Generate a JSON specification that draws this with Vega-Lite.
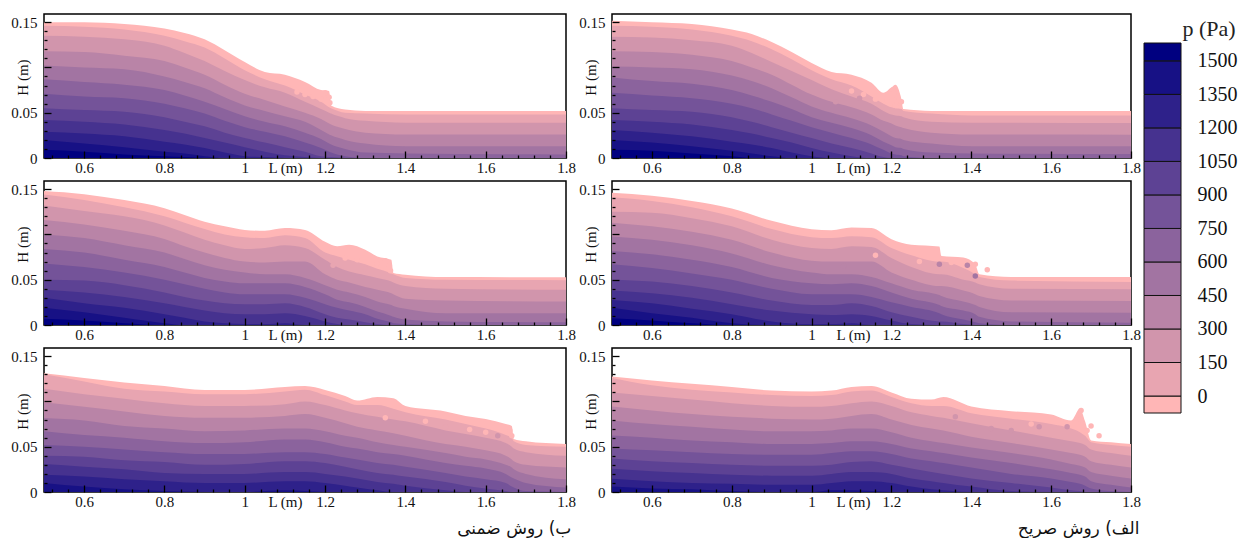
{"$schema":"https://vega.github.io/schema/vega-lite/v6.json","background":"white","padding":{"left":10,"top":13,"right":0,"bottom":0},"spacing":1,
"config":{"view":{"stroke":"black","strokeWidth":1.5},"font":"Liberation Serif","axis":{"labelFont":"Liberation Serif","titleFont":"Liberation Serif","labelFontSize":15,"titleFontSize":15,"titleFontWeight":"normal","labelColor":"#111","titleColor":"#111","domain":false,"grid":false,"labelBound":false,"labelFlush":false,"tickColor":"black","tickWidth":1.3},"title":{"font":"DejaVu Sans","fontSize":17,"fontWeight":"normal","color":"#111"}},
"datasets":{"d":[
{"p":"a","L":0.5,"s0":0.15,"s1":0.146,"s2":0.135,"s3":0.118,"s4":0.102,"s5":0.087,"s6":0.071,"s7":0.055,"s8":0.042,"s9":0.029,"s10":0.02,"s11":0.009},
{"p":"a","L":0.6,"s0":0.15,"s1":0.145,"s2":0.134,"s3":0.117,"s4":0.1,"s5":0.084,"s6":0.068,"s7":0.053,"s8":0.04,"s9":0.027,"s10":0.016,"s11":0.007},
{"p":"a","L":0.7,"s0":0.148,"s1":0.142,"s2":0.131,"s3":0.113,"s4":0.098,"s5":0.081,"s6":0.066,"s7":0.051,"s8":0.037,"s9":0.024,"s10":0.012,"s11":0.004},
{"p":"a","L":0.8,"s0":0.143,"s1":0.135,"s2":0.124,"s3":0.107,"s4":0.09,"s5":0.075,"s6":0.06,"s7":0.045,"s8":0.031,"s9":0.018,"s10":0.007,"s11":0.002},
{"p":"a","L":0.85,"s0":0.138,"s1":0.129,"s2":0.116,"s3":0.1,"s4":0.084,"s5":0.069,"s6":0.055,"s7":0.04,"s8":0.027,"s9":0.015,"s10":0.005,"s11":0.001},
{"p":"a","L":0.9,"s0":0.131,"s1":0.122,"s2":0.107,"s3":0.092,"s4":0.077,"s5":0.062,"s6":0.049,"s7":0.035,"s8":0.022,"s9":0.011,"s10":0.002,"s11":0},
{"p":"a","L":0.95,"s0":0.119,"s1":0.11,"s2":0.096,"s3":0.081,"s4":0.067,"s5":0.054,"s6":0.041,"s7":0.028,"s8":0.017,"s9":0.006,"s10":0,"s11":0},
{"p":"a","L":1,"s0":0.106,"s1":0.097,"s2":0.086,"s3":0.071,"s4":0.058,"s5":0.046,"s6":0.034,"s7":0.022,"s8":0.012,"s9":0.002,"s10":0,"s11":0},
{"p":"a","L":1.05,"s0":0.095,"s1":0.087,"s2":0.078,"s3":0.064,"s4":0.052,"s5":0.04,"s6":0.029,"s7":0.017,"s8":0.007,"s9":0.001,"s10":0,"s11":0},
{"p":"a","L":1.1,"s0":0.092,"s1":0.08,"s2":0.072,"s3":0.057,"s4":0.046,"s5":0.035,"s6":0.024,"s7":0.012,"s8":0.003,"s9":0,"s10":0,"s11":0},
{"p":"a","L":1.15,"s0":0.084,"s1":0.07,"s2":0.062,"s3":0.05,"s4":0.04,"s5":0.028,"s6":0.017,"s7":0.007,"s8":0.001,"s9":0,"s10":0,"s11":0},
{"p":"a","L":1.19,"s0":0.075,"s1":0.062,"s2":0.054,"s3":0.043,"s4":0.031,"s5":0.021,"s6":0.011,"s7":0.002,"s8":0,"s9":0,"s10":0,"s11":0},
{"p":"a","L":1.21,"s0":0.074,"s1":0.056,"s2":0.05,"s3":0.038,"s4":0.026,"s5":0.016,"s6":0.007,"s7":0.001,"s8":0,"s9":0,"s10":0,"s11":0},
{"p":"a","L":1.215,"s0":0.058,"s1":0.055,"s2":0.049,"s3":0.037,"s4":0.025,"s5":0.015,"s6":0.006,"s7":0.001,"s8":0,"s9":0,"s10":0,"s11":0},
{"p":"a","L":1.25,"s0":0.0535,"s1":0.05,"s2":0.044,"s3":0.032,"s4":0.02,"s5":0.01,"s6":0.002,"s7":0,"s8":0,"s9":0,"s10":0,"s11":0},
{"p":"a","L":1.3,"s0":0.052,"s1":0.049,"s2":0.041,"s3":0.028,"s4":0.016,"s5":0.006,"s6":0,"s7":0,"s8":0,"s9":0,"s10":0,"s11":0},
{"p":"a","L":1.4,"s0":0.052,"s1":0.048,"s2":0.039,"s3":0.026,"s4":0.013,"s5":0.005,"s6":0,"s7":0,"s8":0,"s9":0,"s10":0,"s11":0},
{"p":"a","L":1.8,"s0":0.052,"s1":0.048,"s2":0.039,"s3":0.026,"s4":0.013,"s5":0.004,"s6":0,"s7":0,"s8":0,"s9":0,"s10":0,"s11":0},
{"p":"b","L":0.5,"s0":0.148,"s1":0.144,"s2":0.132,"s3":0.116,"s4":0.1,"s5":0.084,"s6":0.068,"s7":0.05,"s8":0.039,"s9":0.03,"s10":0.019,"s11":0.007},
{"p":"b","L":0.6,"s0":0.1445,"s1":0.138,"s2":0.126,"s3":0.111,"s4":0.096,"s5":0.08,"s6":0.064,"s7":0.049,"s8":0.036,"s9":0.024,"s10":0.014,"s11":0.005},
{"p":"b","L":0.7,"s0":0.138,"s1":0.13,"s2":0.12,"s3":0.104,"s4":0.088,"s5":0.072,"s6":0.058,"s7":0.044,"s8":0.031,"s9":0.019,"s10":0.008,"s11":0.002},
{"p":"b","L":0.8,"s0":0.129,"s1":0.12,"s2":0.11,"s3":0.095,"s4":0.08,"s5":0.064,"s6":0.05,"s7":0.036,"s8":0.024,"s9":0.012,"s10":0.002,"s11":0},
{"p":"b","L":0.85,"s0":0.1215,"s1":0.113,"s2":0.102,"s3":0.087,"s4":0.073,"s5":0.058,"s6":0.045,"s7":0.031,"s8":0.02,"s9":0.008,"s10":0,"s11":0},
{"p":"b","L":0.9,"s0":0.114,"s1":0.106,"s2":0.094,"s3":0.08,"s4":0.066,"s5":0.052,"s6":0.04,"s7":0.027,"s8":0.016,"s9":0.004,"s10":0,"s11":0},
{"p":"b","L":0.95,"s0":0.109,"s1":0.1,"s2":0.088,"s3":0.074,"s4":0.061,"s5":0.048,"s6":0.036,"s7":0.024,"s8":0.013,"s9":0.002,"s10":0,"s11":0},
{"p":"b","L":1,"s0":0.105,"s1":0.097,"s2":0.084,"s3":0.07,"s4":0.058,"s5":0.046,"s6":0.034,"s7":0.023,"s8":0.012,"s9":0.001,"s10":0,"s11":0},
{"p":"b","L":1.05,"s0":0.104,"s1":0.096,"s2":0.085,"s3":0.069,"s4":0.056,"s5":0.046,"s6":0.034,"s7":0.023,"s8":0.012,"s9":0.001,"s10":0,"s11":0},
{"p":"b","L":1.1,"s0":0.107,"s1":0.099,"s2":0.088,"s3":0.07,"s4":0.056,"s5":0.046,"s6":0.034,"s7":0.024,"s8":0.013,"s9":0.002,"s10":0,"s11":0},
{"p":"b","L":1.15,"s0":0.105,"s1":0.096,"s2":0.085,"s3":0.07,"s4":0.052,"s5":0.042,"s6":0.03,"s7":0.02,"s8":0.01,"s9":0,"s10":0,"s11":0},
{"p":"b","L":1.2,"s0":0.092,"s1":0.08,"s2":0.072,"s3":0.056,"s4":0.044,"s5":0.034,"s6":0.023,"s7":0.012,"s8":0.004,"s9":0,"s10":0,"s11":0},
{"p":"b","L":1.23,"s0":0.087,"s1":0.076,"s2":0.064,"s3":0.05,"s4":0.039,"s5":0.028,"s6":0.019,"s7":0.008,"s8":0.001,"s9":0,"s10":0,"s11":0},
{"p":"b","L":1.26,"s0":0.0885,"s1":0.072,"s2":0.059,"s3":0.047,"s4":0.036,"s5":0.025,"s6":0.016,"s7":0.006,"s8":0,"s9":0,"s10":0,"s11":0},
{"p":"b","L":1.3,"s0":0.083,"s1":0.067,"s2":0.055,"s3":0.042,"s4":0.031,"s5":0.02,"s6":0.012,"s7":0.003,"s8":0,"s9":0,"s10":0,"s11":0},
{"p":"b","L":1.33,"s0":0.0757,"s1":0.062,"s2":0.052,"s3":0.039,"s4":0.026,"s5":0.015,"s6":0.007,"s7":0.001,"s8":0,"s9":0,"s10":0,"s11":0},
{"p":"b","L":1.365,"s0":0.072,"s1":0.057,"s2":0.048,"s3":0.035,"s4":0.022,"s5":0.01,"s6":0.003,"s7":0,"s8":0,"s9":0,"s10":0,"s11":0},
{"p":"b","L":1.37,"s0":0.0575,"s1":0.056,"s2":0.047,"s3":0.034,"s4":0.021,"s5":0.009,"s6":0.002,"s7":0,"s8":0,"s9":0,"s10":0,"s11":0},
{"p":"b","L":1.4,"s0":0.0556,"s1":0.052,"s2":0.043,"s3":0.029,"s4":0.018,"s5":0.006,"s6":0.001,"s7":0,"s8":0,"s9":0,"s10":0,"s11":0},
{"p":"b","L":1.5,"s0":0.053,"s1":0.05,"s2":0.04,"s3":0.027,"s4":0.013,"s5":0.004,"s6":0,"s7":0,"s8":0,"s9":0,"s10":0,"s11":0},
{"p":"b","L":1.8,"s0":0.0527,"s1":0.0495,"s2":0.039,"s3":0.026,"s4":0.013,"s5":0.003,"s6":0,"s7":0,"s8":0,"s9":0,"s10":0,"s11":0},
{"p":"c","L":0.5,"s0":0.131,"s1":0.13,"s2":0.114,"s3":0.099,"s4":0.0816,"s5":0.067,"s6":0.052,"s7":0.04,"s8":0.031,"s9":0.019,"s10":0.01,"s11":0},
{"p":"c","L":0.6,"s0":0.126,"s1":0.122,"s2":0.108,"s3":0.094,"s4":0.079,"s5":0.063,"s6":0.05,"s7":0.039,"s8":0.028,"s9":0.017,"s10":0.006,"s11":0},
{"p":"c","L":0.7,"s0":0.121,"s1":0.114,"s2":0.103,"s3":0.089,"s4":0.073,"s5":0.06,"s6":0.047,"s7":0.035,"s8":0.025,"s9":0.014,"s10":0.003,"s11":0},
{"p":"c","L":0.8,"s0":0.117,"s1":0.111,"s2":0.098,"s3":0.084,"s4":0.07,"s5":0.056,"s6":0.044,"s7":0.033,"s8":0.021,"s9":0.012,"s10":0.001,"s11":0},
{"p":"c","L":0.9,"s0":0.1127,"s1":0.108,"s2":0.095,"s3":0.082,"s4":0.067,"s5":0.054,"s6":0.042,"s7":0.03,"s8":0.02,"s9":0.01,"s10":0,"s11":0},
{"p":"c","L":1,"s0":0.1127,"s1":0.108,"s2":0.095,"s3":0.082,"s4":0.068,"s5":0.055,"s6":0.042,"s7":0.031,"s8":0.02,"s9":0.01,"s10":0,"s11":0},
{"p":"c","L":1.1,"s0":0.116,"s1":0.111,"s2":0.097,"s3":0.084,"s4":0.07,"s5":0.058,"s6":0.044,"s7":0.034,"s8":0.022,"s9":0.012,"s10":0.002,"s11":0},
{"p":"c","L":1.15,"s0":0.117,"s1":0.113,"s2":0.1,"s3":0.086,"s4":0.07,"s5":0.058,"s6":0.044,"s7":0.034,"s8":0.022,"s9":0.012,"s10":0.001,"s11":0},
{"p":"c","L":1.2,"s0":0.1127,"s1":0.107,"s2":0.096,"s3":0.082,"s4":0.067,"s5":0.055,"s6":0.042,"s7":0.032,"s8":0.02,"s9":0.01,"s10":0,"s11":0},
{"p":"c","L":1.25,"s0":0.106,"s1":0.1,"s2":0.09,"s3":0.076,"s4":0.062,"s5":0.05,"s6":0.038,"s7":0.028,"s8":0.017,"s9":0.007,"s10":0,"s11":0},
{"p":"c","L":1.28,"s0":0.101,"s1":0.096,"s2":0.087,"s3":0.072,"s4":0.06,"s5":0.048,"s6":0.036,"s7":0.025,"s8":0.015,"s9":0.005,"s10":0,"s11":0},
{"p":"c","L":1.33,"s0":0.105,"s1":0.096,"s2":0.083,"s3":0.068,"s4":0.055,"s5":0.044,"s6":0.032,"s7":0.021,"s8":0.011,"s9":0.002,"s10":0,"s11":0},
{"p":"c","L":1.37,"s0":0.1035,"s1":0.092,"s2":0.08,"s3":0.065,"s4":0.052,"s5":0.042,"s6":0.03,"s7":0.019,"s8":0.009,"s9":0,"s10":0,"s11":0},
{"p":"c","L":1.4,"s0":0.095,"s1":0.088,"s2":0.078,"s3":0.062,"s4":0.05,"s5":0.04,"s6":0.028,"s7":0.017,"s8":0.007,"s9":0,"s10":0,"s11":0},
{"p":"c","L":1.5,"s0":0.089,"s1":0.08,"s2":0.068,"s3":0.053,"s4":0.043,"s5":0.032,"s6":0.021,"s7":0.011,"s8":0.002,"s9":0,"s10":0,"s11":0},
{"p":"c","L":1.55,"s0":0.084,"s1":0.075,"s2":0.064,"s3":0.05,"s4":0.039,"s5":0.029,"s6":0.017,"s7":0.007,"s8":0,"s9":0,"s10":0,"s11":0},
{"p":"c","L":1.6,"s0":0.0805,"s1":0.07,"s2":0.06,"s3":0.046,"s4":0.036,"s5":0.026,"s6":0.014,"s7":0.004,"s8":0,"s9":0,"s10":0,"s11":0},
{"p":"c","L":1.65,"s0":0.075,"s1":0.063,"s2":0.054,"s3":0.04,"s4":0.03,"s5":0.02,"s6":0.01,"s7":0.001,"s8":0,"s9":0,"s10":0,"s11":0},
{"p":"c","L":1.665,"s0":0.073,"s1":0.06,"s2":0.05,"s3":0.036,"s4":0.027,"s5":0.016,"s6":0.006,"s7":0,"s8":0,"s9":0,"s10":0,"s11":0},
{"p":"c","L":1.67,"s0":0.0585,"s1":0.056,"s2":0.048,"s3":0.034,"s4":0.025,"s5":0.015,"s6":0.005,"s7":0,"s8":0,"s9":0,"s10":0,"s11":0},
{"p":"c","L":1.7,"s0":0.056,"s1":0.052,"s2":0.044,"s3":0.03,"s4":0.02,"s5":0.01,"s6":0.001,"s7":0,"s8":0,"s9":0,"s10":0,"s11":0},
{"p":"c","L":1.8,"s0":0.053,"s1":0.05,"s2":0.04,"s3":0.027,"s4":0.014,"s5":0.005,"s6":0,"s7":0,"s8":0,"s9":0,"s10":0,"s11":0},
{"p":"d","L":0.5,"s0":0.1515,"s1":0.146,"s2":0.134,"s3":0.118,"s4":0.101,"s5":0.089,"s6":0.072,"s7":0.055,"s8":0.042,"s9":0.031,"s10":0.02,"s11":0.009},
{"p":"d","L":0.6,"s0":0.15,"s1":0.145,"s2":0.133,"s3":0.117,"s4":0.1,"s5":0.085,"s6":0.069,"s7":0.053,"s8":0.04,"s9":0.028,"s10":0.017,"s11":0.008},
{"p":"d","L":0.7,"s0":0.148,"s1":0.142,"s2":0.13,"s3":0.114,"s4":0.098,"s5":0.082,"s6":0.066,"s7":0.051,"s8":0.037,"s9":0.024,"s10":0.013,"s11":0.005},
{"p":"d","L":0.8,"s0":0.142,"s1":0.135,"s2":0.124,"s3":0.107,"s4":0.091,"s5":0.075,"s6":0.06,"s7":0.045,"s8":0.031,"s9":0.018,"s10":0.008,"s11":0.002},
{"p":"d","L":0.85,"s0":0.137,"s1":0.129,"s2":0.116,"s3":0.1,"s4":0.085,"s5":0.069,"s6":0.055,"s7":0.04,"s8":0.027,"s9":0.015,"s10":0.005,"s11":0},
{"p":"d","L":0.9,"s0":0.128,"s1":0.12,"s2":0.106,"s3":0.092,"s4":0.077,"s5":0.062,"s6":0.048,"s7":0.034,"s8":0.022,"s9":0.011,"s10":0.002,"s11":0},
{"p":"d","L":0.95,"s0":0.117,"s1":0.109,"s2":0.096,"s3":0.081,"s4":0.067,"s5":0.054,"s6":0.041,"s7":0.028,"s8":0.017,"s9":0.006,"s10":0,"s11":0},
{"p":"d","L":1,"s0":0.105,"s1":0.097,"s2":0.086,"s3":0.07,"s4":0.057,"s5":0.045,"s6":0.034,"s7":0.022,"s8":0.011,"s9":0.002,"s10":0,"s11":0},
{"p":"d","L":1.05,"s0":0.095,"s1":0.087,"s2":0.076,"s3":0.062,"s4":0.05,"s5":0.039,"s6":0.028,"s7":0.016,"s8":0.006,"s9":0,"s10":0,"s11":0},
{"p":"d","L":1.1,"s0":0.092,"s1":0.08,"s2":0.068,"s3":0.056,"s4":0.044,"s5":0.033,"s6":0.022,"s7":0.011,"s8":0.002,"s9":0,"s10":0,"s11":0},
{"p":"d","L":1.15,"s0":0.083,"s1":0.068,"s2":0.06,"s3":0.048,"s4":0.036,"s5":0.025,"s6":0.015,"s7":0.005,"s8":0,"s9":0,"s10":0,"s11":0},
{"p":"d","L":1.18,"s0":0.072,"s1":0.06,"s2":0.052,"s3":0.041,"s4":0.029,"s5":0.018,"s6":0.009,"s7":0.001,"s8":0,"s9":0,"s10":0,"s11":0},
{"p":"d","L":1.2,"s0":0.078,"s1":0.056,"s2":0.048,"s3":0.038,"s4":0.024,"s5":0.014,"s6":0.005,"s7":0,"s8":0,"s9":0,"s10":0,"s11":0},
{"p":"d","L":1.21,"s0":0.081,"s1":0.055,"s2":0.047,"s3":0.036,"s4":0.022,"s5":0.012,"s6":0.004,"s7":0,"s8":0,"s9":0,"s10":0,"s11":0},
{"p":"d","L":1.225,"s0":0.065,"s1":0.054,"s2":0.046,"s3":0.034,"s4":0.021,"s5":0.011,"s6":0.003,"s7":0,"s8":0,"s9":0,"s10":0,"s11":0},
{"p":"d","L":1.23,"s0":0.054,"s1":0.052,"s2":0.045,"s3":0.033,"s4":0.02,"s5":0.01,"s6":0.002,"s7":0,"s8":0,"s9":0,"s10":0,"s11":0},
{"p":"d","L":1.3,"s0":0.052,"s1":0.049,"s2":0.04,"s3":0.028,"s4":0.016,"s5":0.006,"s6":0,"s7":0,"s8":0,"s9":0,"s10":0,"s11":0},
{"p":"d","L":1.4,"s0":0.052,"s1":0.047,"s2":0.039,"s3":0.026,"s4":0.013,"s5":0.005,"s6":0,"s7":0,"s8":0,"s9":0,"s10":0,"s11":0},
{"p":"d","L":1.8,"s0":0.052,"s1":0.047,"s2":0.0386,"s3":0.0257,"s4":0.0129,"s5":0.0044,"s6":0,"s7":0,"s8":0,"s9":0,"s10":0,"s11":0},
{"p":"e","L":0.5,"s0":0.146,"s1":0.141,"s2":0.125,"s3":0.113,"s4":0.0977,"s5":0.0818,"s6":0.067,"s7":0.05,"s8":0.038,"s9":0.0276,"s10":0.019,"s11":0.0074},
{"p":"e","L":0.6,"s0":0.1426,"s1":0.137,"s2":0.124,"s3":0.109,"s4":0.094,"s5":0.078,"s6":0.063,"s7":0.048,"s8":0.035,"s9":0.024,"s10":0.013,"s11":0.005},
{"p":"e","L":0.7,"s0":0.137,"s1":0.13,"s2":0.118,"s3":0.103,"s4":0.088,"s5":0.072,"s6":0.057,"s7":0.043,"s8":0.03,"s9":0.018,"s10":0.008,"s11":0.002},
{"p":"e","L":0.8,"s0":0.1286,"s1":0.12,"s2":0.109,"s3":0.094,"s4":0.079,"s5":0.064,"s6":0.05,"s7":0.036,"s8":0.023,"s9":0.012,"s10":0.002,"s11":0},
{"p":"e","L":0.9,"s0":0.115,"s1":0.106,"s2":0.094,"s3":0.08,"s4":0.066,"s5":0.052,"s6":0.04,"s7":0.027,"s8":0.016,"s9":0.004,"s10":0,"s11":0},
{"p":"e","L":1,"s0":0.1058,"s1":0.097,"s2":0.085,"s3":0.071,"s4":0.058,"s5":0.046,"s6":0.034,"s7":0.022,"s8":0.012,"s9":0.001,"s10":0,"s11":0},
{"p":"e","L":1.05,"s0":0.1047,"s1":0.096,"s2":0.084,"s3":0.07,"s4":0.056,"s5":0.045,"s6":0.034,"s7":0.022,"s8":0.011,"s9":0.001,"s10":0,"s11":0},
{"p":"e","L":1.1,"s0":0.1076,"s1":0.098,"s2":0.087,"s3":0.07,"s4":0.056,"s5":0.046,"s6":0.034,"s7":0.024,"s8":0.012,"s9":0.002,"s10":0,"s11":0},
{"p":"e","L":1.15,"s0":0.107,"s1":0.097,"s2":0.086,"s3":0.07,"s4":0.053,"s5":0.043,"s6":0.031,"s7":0.021,"s8":0.01,"s9":0,"s10":0,"s11":0},
{"p":"e","L":1.2,"s0":0.0947,"s1":0.085,"s2":0.074,"s3":0.058,"s4":0.046,"s5":0.036,"s6":0.025,"s7":0.014,"s8":0.005,"s9":0,"s10":0,"s11":0},
{"p":"e","L":1.25,"s0":0.0885,"s1":0.077,"s2":0.064,"s3":0.05,"s4":0.039,"s5":0.029,"s6":0.02,"s7":0.009,"s8":0.001,"s9":0,"s10":0,"s11":0},
{"p":"e","L":1.32,"s0":0.0866,"s1":0.07,"s2":0.056,"s3":0.043,"s4":0.033,"s5":0.022,"s6":0.013,"s7":0.004,"s8":0,"s9":0,"s10":0,"s11":0},
{"p":"e","L":1.325,"s0":0.0763,"s1":0.07,"s2":0.056,"s3":0.043,"s4":0.032,"s5":0.021,"s6":0.012,"s7":0.004,"s8":0,"s9":0,"s10":0,"s11":0},
{"p":"e","L":1.38,"s0":0.0745,"s1":0.063,"s2":0.05,"s3":0.038,"s4":0.026,"s5":0.016,"s6":0.006,"s7":0.001,"s8":0,"s9":0,"s10":0,"s11":0},
{"p":"e","L":1.41,"s0":0.067,"s1":0.056,"s2":0.047,"s3":0.034,"s4":0.022,"s5":0.012,"s6":0.003,"s7":0,"s8":0,"s9":0,"s10":0,"s11":0},
{"p":"e","L":1.42,"s0":0.056,"s1":0.053,"s2":0.045,"s3":0.032,"s4":0.02,"s5":0.009,"s6":0.002,"s7":0,"s8":0,"s9":0,"s10":0,"s11":0},
{"p":"e","L":1.5,"s0":0.053,"s1":0.049,"s2":0.04,"s3":0.027,"s4":0.014,"s5":0.004,"s6":0,"s7":0,"s8":0,"s9":0,"s10":0,"s11":0},
{"p":"e","L":1.8,"s0":0.053,"s1":0.0475,"s2":0.0394,"s3":0.0265,"s4":0.0136,"s5":0.0026,"s6":0,"s7":0,"s8":0,"s9":0,"s10":0,"s11":0},
{"p":"f","L":0.5,"s0":0.1275,"s1":0.126,"s2":0.11,"s3":0.0945,"s4":0.079,"s5":0.0625,"s6":0.048,"s7":0.037,"s8":0.0257,"s9":0.0147,"s10":0.006,"s11":0},
{"p":"f","L":0.6,"s0":0.123,"s1":0.118,"s2":0.106,"s3":0.09,"s4":0.075,"s5":0.06,"s6":0.046,"s7":0.034,"s8":0.023,"s9":0.012,"s10":0.004,"s11":0},
{"p":"f","L":0.7,"s0":0.1195,"s1":0.113,"s2":0.102,"s3":0.086,"s4":0.072,"s5":0.057,"s6":0.044,"s7":0.032,"s8":0.021,"s9":0.01,"s10":0.003,"s11":0},
{"p":"f","L":0.8,"s0":0.116,"s1":0.11,"s2":0.098,"s3":0.083,"s4":0.069,"s5":0.055,"s6":0.042,"s7":0.03,"s8":0.019,"s9":0.009,"s10":0.001,"s11":0},
{"p":"f","L":0.9,"s0":0.112,"s1":0.107,"s2":0.095,"s3":0.081,"s4":0.067,"s5":0.053,"s6":0.041,"s7":0.029,"s8":0.018,"s9":0.008,"s10":0,"s11":0},
{"p":"f","L":1,"s0":0.111,"s1":0.106,"s2":0.094,"s3":0.08,"s4":0.067,"s5":0.053,"s6":0.041,"s7":0.029,"s8":0.018,"s9":0.008,"s10":0,"s11":0},
{"p":"f","L":1.05,"s0":0.112,"s1":0.107,"s2":0.095,"s3":0.081,"s4":0.068,"s5":0.054,"s6":0.043,"s7":0.03,"s8":0.02,"s9":0.01,"s10":0.002,"s11":0},
{"p":"f","L":1.1,"s0":0.116,"s1":0.111,"s2":0.098,"s3":0.084,"s4":0.07,"s5":0.056,"s6":0.045,"s7":0.033,"s8":0.022,"s9":0.012,"s10":0.002,"s11":0},
{"p":"f","L":1.15,"s0":0.117,"s1":0.112,"s2":0.1,"s3":0.086,"s4":0.07,"s5":0.056,"s6":0.045,"s7":0.034,"s8":0.022,"s9":0.012,"s10":0.001,"s11":0},
{"p":"f","L":1.2,"s0":0.11,"s1":0.105,"s2":0.095,"s3":0.08,"s4":0.066,"s5":0.053,"s6":0.042,"s7":0.03,"s8":0.02,"s9":0.01,"s10":0,"s11":0},
{"p":"f","L":1.25,"s0":0.103,"s1":0.098,"s2":0.088,"s3":0.074,"s4":0.06,"s5":0.048,"s6":0.037,"s7":0.026,"s8":0.015,"s9":0.006,"s10":0,"s11":0},
{"p":"f","L":1.3,"s0":0.102,"s1":0.095,"s2":0.084,"s3":0.07,"s4":0.056,"s5":0.045,"s6":0.034,"s7":0.022,"s8":0.012,"s9":0.003,"s10":0,"s11":0},
{"p":"f","L":1.33,"s0":0.105,"s1":0.095,"s2":0.082,"s3":0.068,"s4":0.054,"s5":0.043,"s6":0.032,"s7":0.02,"s8":0.01,"s9":0.002,"s10":0,"s11":0},
{"p":"f","L":1.4,"s0":0.0945,"s1":0.087,"s2":0.076,"s3":0.061,"s4":0.049,"s5":0.038,"s6":0.027,"s7":0.015,"s8":0.006,"s9":0,"s10":0,"s11":0},
{"p":"f","L":1.5,"s0":0.0893,"s1":0.081,"s2":0.068,"s3":0.054,"s4":0.043,"s5":0.032,"s6":0.02,"s7":0.01,"s8":0.001,"s9":0,"s10":0,"s11":0},
{"p":"f","L":1.6,"s0":0.0857,"s1":0.075,"s2":0.06,"s3":0.047,"s4":0.036,"s5":0.025,"s6":0.015,"s7":0.005,"s8":0,"s9":0,"s10":0,"s11":0},
{"p":"f","L":1.65,"s0":0.079,"s1":0.07,"s2":0.056,"s3":0.043,"s4":0.031,"s5":0.021,"s6":0.011,"s7":0.002,"s8":0,"s9":0,"s10":0,"s11":0},
{"p":"f","L":1.672,"s0":0.092,"s1":0.066,"s2":0.054,"s3":0.041,"s4":0.029,"s5":0.019,"s6":0.009,"s7":0.001,"s8":0,"s9":0,"s10":0,"s11":0},
{"p":"f","L":1.685,"s0":0.078,"s1":0.062,"s2":0.052,"s3":0.039,"s4":0.027,"s5":0.017,"s6":0.007,"s7":0,"s8":0,"s9":0,"s10":0,"s11":0},
{"p":"f","L":1.7,"s0":0.057,"s1":0.055,"s2":0.047,"s3":0.034,"s4":0.022,"s5":0.012,"s6":0.004,"s7":0,"s8":0,"s9":0,"s10":0,"s11":0},
{"p":"f","L":1.75,"s0":0.055,"s1":0.052,"s2":0.043,"s3":0.03,"s4":0.018,"s5":0.008,"s6":0.001,"s7":0,"s8":0,"s9":0,"s10":0,"s11":0},
{"p":"f","L":1.8,"s0":0.053,"s1":0.05,"s2":0.04,"s3":0.027,"s4":0.015,"s5":0.005,"s6":0,"s7":0,"s8":0,"s9":0,"s10":0,"s11":0}
],
"dr":[
{"p":"a","L":1.13,"h":0.073,"key":"s0"},{"p":"a","L":1.15,"h":0.07,"key":"s0"},{"p":"a","L":1.19,"h":0.065,"key":"s0"},{"p":"a","L":1.17,"h":0.068,"key":"s0"},{"p":"a","L":1.2,"h":0.072,"key":"s0"},{"p":"a","L":1.21,"h":0.067,"key":"s0"},{"p":"a","L":1.212,"h":0.061,"key":"s0"},
{"p":"b","L":1.25,"h":0.074,"key":"s0"},{"p":"b","L":1.28,"h":0.072,"key":"s0"},{"p":"b","L":1.33,"h":0.068,"key":"s0"},{"p":"b","L":1.22,"h":0.066,"key":"s1"},{"p":"b","L":1.3,"h":0.062,"key":"s1"},{"p":"b","L":1.36,"h":0.066,"key":"s0"},{"p":"b","L":1.363,"h":0.06,"key":"s0"},{"p":"b","L":1.35,"h":0.071,"key":"s0"},
{"p":"c","L":1.5,"h":0.072,"key":"s1"},{"p":"c","L":1.56,"h":0.069,"key":"s0"},{"p":"c","L":1.6,"h":0.066,"key":"s0"},{"p":"c","L":1.63,"h":0.062,"key":"s2"},{"p":"c","L":1.45,"h":0.078,"key":"s0"},{"p":"c","L":1.35,"h":0.082,"key":"s0"},{"p":"c","L":1.66,"h":0.068,"key":"s0"},{"p":"c","L":1.665,"h":0.062,"key":"s0"},
{"p":"d","L":1.1,"h":0.074,"key":"s0"},{"p":"d","L":1.13,"h":0.07,"key":"s0"},{"p":"d","L":1.16,"h":0.065,"key":"s0"},{"p":"d","L":1.12,"h":0.066,"key":"s2"},{"p":"d","L":1.06,"h":0.062,"key":"s2"},{"p":"d","L":1.19,"h":0.063,"key":"s0"},{"p":"d","L":1.205,"h":0.075,"key":"s0"},{"p":"d","L":1.215,"h":0.068,"key":"s0"},{"p":"d","L":1.225,"h":0.062,"key":"s0"},{"p":"d","L":1.21,"h":0.058,"key":"s0"},
{"p":"e","L":1.44,"h":0.061,"key":"s0"},{"p":"e","L":1.32,"h":0.067,"key":"s3"},{"p":"e","L":1.39,"h":0.066,"key":"s3"},{"p":"e","L":1.41,"h":0.054,"key":"s4"},{"p":"e","L":1.08,"h":0.065,"key":"s3"},{"p":"e","L":1.27,"h":0.07,"key":"s0"},{"p":"e","L":1.35,"h":0.069,"key":"s0"},{"p":"e","L":1.41,"h":0.067,"key":"s0"},{"p":"e","L":1.16,"h":0.077,"key":"s0"},
{"p":"f","L":1.72,"h":0.062,"key":"s0"},{"p":"f","L":1.36,"h":0.083,"key":"s2"},{"p":"f","L":1.29,"h":0.078,"key":"s2"},{"p":"f","L":1.57,"h":0.072,"key":"s2"},{"p":"f","L":1.64,"h":0.072,"key":"s2"},{"p":"f","L":1.7,"h":0.073,"key":"s0"},{"p":"f","L":1.5,"h":0.068,"key":"s2"},{"p":"f","L":1.45,"h":0.07,"key":"s2"},{"p":"f","L":1.55,"h":0.075,"key":"s0"},{"p":"f","L":1.675,"h":0.09,"key":"s0"},{"p":"f","L":1.675,"h":0.08,"key":"s0"},{"p":"f","L":1.69,"h":0.068,"key":"s0"}
],
"leg":[{"lo":-76,"hi":0,"key":"s0"},{"lo":0,"hi":150,"key":"s1"},{"lo":150,"hi":300,"key":"s2"},{"lo":300,"hi":450,"key":"s3"},{"lo":450,"hi":600,"key":"s4"},{"lo":600,"hi":750,"key":"s5"},{"lo":750,"hi":900,"key":"s6"},{"lo":900,"hi":1050,"key":"s7"},{"lo":1050,"hi":1200,"key":"s8"},{"lo":1200,"hi":1350,"key":"s9"},{"lo":1350,"hi":1500,"key":"s10"},{"lo":1500,"hi":1580,"key":"s11"}]},
"hconcat":[
{"vconcat":[
{"width":522,"height":144,"layer":[
{"data":{"name":"d"},"transform":[{"filter":"datum.p=='a'"},{"fold":["s0","s1","s2","s3","s4","s5","s6","s7","s8","s9","s10","s11"],"as":["key","h"]}],"mark":{"type":"area","interpolate":"monotone"},"encoding":{"x":{"field":"L","type":"quantitative","scale":{"domain":[0.5,1.8],"nice":false},"axis":{"tickCount":100,"labelPadding":9,"zindex":1,"labelOverlap":false,"values":[0.52,0.56,0.6,0.64,0.68,0.72,0.76,0.8,0.84,0.88,0.92,0.96,1,1.04,1.08,1.12,1.16,1.2,1.24,1.28,1.32,1.36,1.4,1.44,1.48,1.52,1.56,1.6,1.64,1.68,1.72,1.76,1.8],"labelExpr":"round(datum.value*100)%20==0?(round(datum.value*100)==100?'1':format(datum.value,'.1f')):''","tickSize":{"condition":{"test":"round(datum.value*100)%20==0","value":-7},"value":-3},"title":"L (m)","titleX":241,"titlePadding":-19}},"y":{"field":"h","type":"quantitative","stack":null,"scale":{"domain":[0,0.159],"nice":false},"axis":{"tickCount":100,"labelPadding":14,"zindex":1,"labelOverlap":false,"values":[0,0.01,0.02,0.03,0.04,0.05,0.06,0.07,0.08,0.09,0.1,0.11,0.12,0.13,0.14,0.15],"labelExpr":"round(datum.value*100)==0?'0':(round(datum.value*100)==5?'0.05':(round(datum.value*100)==15?'0.15':''))","tickSize":{"condition":{"test":"round(datum.value*100)%5==0","value":-7},"value":-3},"title":"H (m)","titleX":-14,"titleY":63}},"color":{"field":"key","type":"nominal","legend":null,"scale":{"domain":["s0","s1","s2","s3","s4","s5","s6","s7","s8","s9","s10","s11"],"range":["#ffb6b6","#e8a5b1","#d195ac","#b984a7","#a274a2","#8b639d","#745399","#5d4294","#46328f","#2e218a","#171185","#000080"]}}}},
{"data":{"name":"dr"},"transform":[{"filter":"datum.p=='a'"}],"mark":{"type":"circle","size":30,"opacity":1},"encoding":{"x":{"field":"L","type":"quantitative"},"y":{"field":"h","type":"quantitative"},"color":{"field":"key","type":"nominal","legend":null}}}
]},
{"width":522,"height":144,"layer":[
{"data":{"name":"d"},"transform":[{"filter":"datum.p=='b'"},{"fold":["s0","s1","s2","s3","s4","s5","s6","s7","s8","s9","s10","s11"],"as":["key","h"]}],"mark":{"type":"area","interpolate":"monotone"},"encoding":{"x":{"field":"L","type":"quantitative","scale":{"domain":[0.5,1.8],"nice":false},"axis":{"tickCount":100,"labelPadding":9,"zindex":1,"labelOverlap":false,"values":[0.52,0.56,0.6,0.64,0.68,0.72,0.76,0.8,0.84,0.88,0.92,0.96,1,1.04,1.08,1.12,1.16,1.2,1.24,1.28,1.32,1.36,1.4,1.44,1.48,1.52,1.56,1.6,1.64,1.68,1.72,1.76,1.8],"labelExpr":"round(datum.value*100)%20==0?(round(datum.value*100)==100?'1':format(datum.value,'.1f')):''","tickSize":{"condition":{"test":"round(datum.value*100)%20==0","value":-7},"value":-3},"title":"L (m)","titleX":241,"titlePadding":-19}},"y":{"field":"h","type":"quantitative","stack":null,"scale":{"domain":[0,0.159],"nice":false},"axis":{"tickCount":100,"labelPadding":14,"zindex":1,"labelOverlap":false,"values":[0,0.01,0.02,0.03,0.04,0.05,0.06,0.07,0.08,0.09,0.1,0.11,0.12,0.13,0.14,0.15],"labelExpr":"round(datum.value*100)==0?'0':(round(datum.value*100)==5?'0.05':(round(datum.value*100)==15?'0.15':''))","tickSize":{"condition":{"test":"round(datum.value*100)%5==0","value":-7},"value":-3},"title":"H (m)","titleX":-14,"titleY":63}},"color":{"field":"key","type":"nominal","legend":null,"scale":{"domain":["s0","s1","s2","s3","s4","s5","s6","s7","s8","s9","s10","s11"],"range":["#ffb6b6","#e8a5b1","#d195ac","#b984a7","#a274a2","#8b639d","#745399","#5d4294","#46328f","#2e218a","#171185","#000080"]}}}},
{"data":{"name":"dr"},"transform":[{"filter":"datum.p=='b'"}],"mark":{"type":"circle","size":30,"opacity":1},"encoding":{"x":{"field":"L","type":"quantitative"},"y":{"field":"h","type":"quantitative"},"color":{"field":"key","type":"nominal","legend":null}}}
]},
{"width":522,"height":144,"title":{"text":"ب) روش ضمنی","orient":"bottom","anchor":"end","offset":8,"dx":-4},"layer":[
{"data":{"name":"d"},"transform":[{"filter":"datum.p=='c'"},{"fold":["s0","s1","s2","s3","s4","s5","s6","s7","s8","s9","s10","s11"],"as":["key","h"]}],"mark":{"type":"area","interpolate":"monotone"},"encoding":{"x":{"field":"L","type":"quantitative","scale":{"domain":[0.5,1.8],"nice":false},"axis":{"tickCount":100,"labelPadding":9,"zindex":1,"labelOverlap":false,"values":[0.52,0.56,0.6,0.64,0.68,0.72,0.76,0.8,0.84,0.88,0.92,0.96,1,1.04,1.08,1.12,1.16,1.2,1.24,1.28,1.32,1.36,1.4,1.44,1.48,1.52,1.56,1.6,1.64,1.68,1.72,1.76,1.8],"labelExpr":"round(datum.value*100)%20==0?(round(datum.value*100)==100?'1':format(datum.value,'.1f')):''","tickSize":{"condition":{"test":"round(datum.value*100)%20==0","value":-7},"value":-3},"title":"L (m)","titleX":241,"titlePadding":-19}},"y":{"field":"h","type":"quantitative","stack":null,"scale":{"domain":[0,0.159],"nice":false},"axis":{"tickCount":100,"labelPadding":14,"zindex":1,"labelOverlap":false,"values":[0,0.01,0.02,0.03,0.04,0.05,0.06,0.07,0.08,0.09,0.1,0.11,0.12,0.13,0.14,0.15],"labelExpr":"round(datum.value*100)==0?'0':(round(datum.value*100)==5?'0.05':(round(datum.value*100)==15?'0.15':''))","tickSize":{"condition":{"test":"round(datum.value*100)%5==0","value":-7},"value":-3},"title":"H (m)","titleX":-14,"titleY":63}},"color":{"field":"key","type":"nominal","legend":null,"scale":{"domain":["s0","s1","s2","s3","s4","s5","s6","s7","s8","s9","s10","s11"],"range":["#ffb6b6","#e8a5b1","#d195ac","#b984a7","#a274a2","#8b639d","#745399","#5d4294","#46328f","#2e218a","#171185","#000080"]}}}},
{"data":{"name":"dr"},"transform":[{"filter":"datum.p=='c'"}],"mark":{"type":"circle","size":30,"opacity":1},"encoding":{"x":{"field":"L","type":"quantitative"},"y":{"field":"h","type":"quantitative"},"color":{"field":"key","type":"nominal","legend":null}}}
]}
],"spacing":23,"bounds":"flush"},
{"vconcat":[
{"width":519,"height":144,"layer":[
{"data":{"name":"d"},"transform":[{"filter":"datum.p=='d'"},{"fold":["s0","s1","s2","s3","s4","s5","s6","s7","s8","s9","s10","s11"],"as":["key","h"]}],"mark":{"type":"area","interpolate":"monotone"},"encoding":{"x":{"field":"L","type":"quantitative","scale":{"domain":[0.5,1.8],"nice":false},"axis":{"tickCount":100,"labelPadding":9,"zindex":1,"labelOverlap":false,"values":[0.52,0.56,0.6,0.64,0.68,0.72,0.76,0.8,0.84,0.88,0.92,0.96,1,1.04,1.08,1.12,1.16,1.2,1.24,1.28,1.32,1.36,1.4,1.44,1.48,1.52,1.56,1.6,1.64,1.68,1.72,1.76,1.8],"labelExpr":"round(datum.value*100)%20==0?(round(datum.value*100)==100?'1':format(datum.value,'.1f')):''","tickSize":{"condition":{"test":"round(datum.value*100)%20==0","value":-7},"value":-3},"title":"L (m)","titleX":241,"titlePadding":-19}},"y":{"field":"h","type":"quantitative","stack":null,"scale":{"domain":[0,0.159],"nice":false},"axis":{"tickCount":100,"labelPadding":14,"zindex":1,"labelOverlap":false,"values":[0,0.01,0.02,0.03,0.04,0.05,0.06,0.07,0.08,0.09,0.1,0.11,0.12,0.13,0.14,0.15],"labelExpr":"round(datum.value*100)==0?'0':(round(datum.value*100)==5?'0.05':(round(datum.value*100)==15?'0.15':''))","tickSize":{"condition":{"test":"round(datum.value*100)%5==0","value":-7},"value":-3},"title":"H (m)","titleX":-14,"titleY":63}},"color":{"field":"key","type":"nominal","legend":null,"scale":{"domain":["s0","s1","s2","s3","s4","s5","s6","s7","s8","s9","s10","s11"],"range":["#ffb6b6","#e8a5b1","#d195ac","#b984a7","#a274a2","#8b639d","#745399","#5d4294","#46328f","#2e218a","#171185","#000080"]}}}},
{"data":{"name":"dr"},"transform":[{"filter":"datum.p=='d'"}],"mark":{"type":"circle","size":30,"opacity":1},"encoding":{"x":{"field":"L","type":"quantitative"},"y":{"field":"h","type":"quantitative"},"color":{"field":"key","type":"nominal","legend":null}}}
]},
{"width":519,"height":144,"layer":[
{"data":{"name":"d"},"transform":[{"filter":"datum.p=='e'"},{"fold":["s0","s1","s2","s3","s4","s5","s6","s7","s8","s9","s10","s11"],"as":["key","h"]}],"mark":{"type":"area","interpolate":"monotone"},"encoding":{"x":{"field":"L","type":"quantitative","scale":{"domain":[0.5,1.8],"nice":false},"axis":{"tickCount":100,"labelPadding":9,"zindex":1,"labelOverlap":false,"values":[0.52,0.56,0.6,0.64,0.68,0.72,0.76,0.8,0.84,0.88,0.92,0.96,1,1.04,1.08,1.12,1.16,1.2,1.24,1.28,1.32,1.36,1.4,1.44,1.48,1.52,1.56,1.6,1.64,1.68,1.72,1.76,1.8],"labelExpr":"round(datum.value*100)%20==0?(round(datum.value*100)==100?'1':format(datum.value,'.1f')):''","tickSize":{"condition":{"test":"round(datum.value*100)%20==0","value":-7},"value":-3},"title":"L (m)","titleX":241,"titlePadding":-19}},"y":{"field":"h","type":"quantitative","stack":null,"scale":{"domain":[0,0.159],"nice":false},"axis":{"tickCount":100,"labelPadding":14,"zindex":1,"labelOverlap":false,"values":[0,0.01,0.02,0.03,0.04,0.05,0.06,0.07,0.08,0.09,0.1,0.11,0.12,0.13,0.14,0.15],"labelExpr":"round(datum.value*100)==0?'0':(round(datum.value*100)==5?'0.05':(round(datum.value*100)==15?'0.15':''))","tickSize":{"condition":{"test":"round(datum.value*100)%5==0","value":-7},"value":-3},"title":"H (m)","titleX":-14,"titleY":63}},"color":{"field":"key","type":"nominal","legend":null,"scale":{"domain":["s0","s1","s2","s3","s4","s5","s6","s7","s8","s9","s10","s11"],"range":["#ffb6b6","#e8a5b1","#d195ac","#b984a7","#a274a2","#8b639d","#745399","#5d4294","#46328f","#2e218a","#171185","#000080"]}}}},
{"data":{"name":"dr"},"transform":[{"filter":"datum.p=='e'"}],"mark":{"type":"circle","size":30,"opacity":1},"encoding":{"x":{"field":"L","type":"quantitative"},"y":{"field":"h","type":"quantitative"},"color":{"field":"key","type":"nominal","legend":null}}}
]},
{"width":519,"height":144,"title":{"text":"الف) روش صریح","orient":"bottom","anchor":"end","offset":8,"dx":-1},"layer":[
{"data":{"name":"d"},"transform":[{"filter":"datum.p=='f'"},{"fold":["s0","s1","s2","s3","s4","s5","s6","s7","s8","s9","s10","s11"],"as":["key","h"]}],"mark":{"type":"area","interpolate":"monotone"},"encoding":{"x":{"field":"L","type":"quantitative","scale":{"domain":[0.5,1.8],"nice":false},"axis":{"tickCount":100,"labelPadding":9,"zindex":1,"labelOverlap":false,"values":[0.52,0.56,0.6,0.64,0.68,0.72,0.76,0.8,0.84,0.88,0.92,0.96,1,1.04,1.08,1.12,1.16,1.2,1.24,1.28,1.32,1.36,1.4,1.44,1.48,1.52,1.56,1.6,1.64,1.68,1.72,1.76,1.8],"labelExpr":"round(datum.value*100)%20==0?(round(datum.value*100)==100?'1':format(datum.value,'.1f')):''","tickSize":{"condition":{"test":"round(datum.value*100)%20==0","value":-7},"value":-3},"title":"L (m)","titleX":241,"titlePadding":-19}},"y":{"field":"h","type":"quantitative","stack":null,"scale":{"domain":[0,0.159],"nice":false},"axis":{"tickCount":100,"labelPadding":14,"zindex":1,"labelOverlap":false,"values":[0,0.01,0.02,0.03,0.04,0.05,0.06,0.07,0.08,0.09,0.1,0.11,0.12,0.13,0.14,0.15],"labelExpr":"round(datum.value*100)==0?'0':(round(datum.value*100)==5?'0.05':(round(datum.value*100)==15?'0.15':''))","tickSize":{"condition":{"test":"round(datum.value*100)%5==0","value":-7},"value":-3},"title":"H (m)","titleX":-14,"titleY":63}},"color":{"field":"key","type":"nominal","legend":null,"scale":{"domain":["s0","s1","s2","s3","s4","s5","s6","s7","s8","s9","s10","s11"],"range":["#ffb6b6","#e8a5b1","#d195ac","#b984a7","#a274a2","#8b639d","#745399","#5d4294","#46328f","#2e218a","#171185","#000080"]}}}},
{"data":{"name":"dr"},"transform":[{"filter":"datum.p=='f'"}],"mark":{"type":"circle","size":30,"opacity":1},"encoding":{"x":{"field":"L","type":"quantitative"},"y":{"field":"h","type":"quantitative"},"color":{"field":"key","type":"nominal","legend":null}}}
]}
],"spacing":23,"bounds":"flush"},
{"vconcat":[
{"width":130,"height":29,"view":{"stroke":null},"data":{"values":[{"t":"p (Pa)"}]},"mark":{"type":"text","font":"Liberation Serif","fontSize":22,"color":"#222"},"encoding":{"text":{"field":"t","type":"nominal"}}},
{"width":37,"height":370,"view":{"stroke":null},"data":{"name":"leg"},"mark":{"type":"rect","stroke":"#111","strokeWidth":1},"encoding":{"y":{"field":"lo","type":"quantitative","scale":{"domain":[-76,1580],"nice":false,"zero":false},"axis":{"tickCount":100,"orient":"right","values":[0,150,300,450,600,750,900,1050,1200,1350,1500],"format":"d","labelFontSize":20,"labelPadding":16,"ticks":false,"title":null,"labelOverlap":false}},"y2":{"field":"hi"},"color":{"field":"key","type":"nominal","legend":null,"scale":{"domain":["s0","s1","s2","s3","s4","s5","s6","s7","s8","s9","s10","s11"],"range":["#ffb6b6","#e8a5b1","#d195ac","#b984a7","#a274a2","#8b639d","#745399","#5d4294","#46328f","#2e218a","#171185","#000080"]}}}}
],"spacing":0,"bounds":"flush"}
]}
